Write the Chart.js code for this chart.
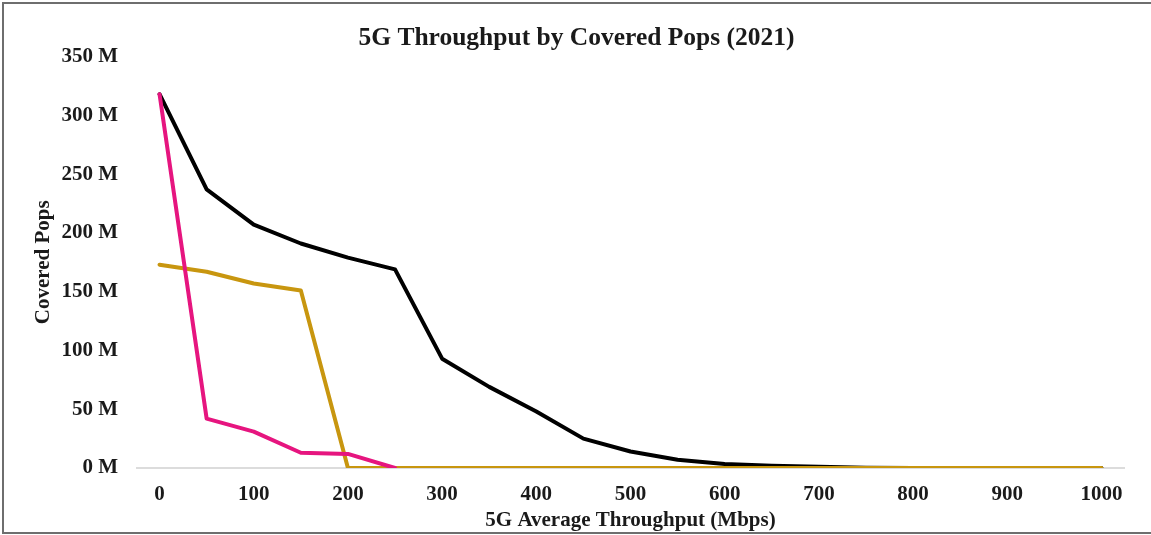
<!DOCTYPE html>
<html lang="en">
<head>
  <meta charset="UTF-8">
  <title>5G Throughput by Covered Pops (2021)</title>
  <script src="https://cdn.jsdelivr.net/npm/chart.js"></script>
  <style>
    body { margin: 0; background: #fff; }
    #wrap { position: relative; width: 1151px; height: 535px; overflow: hidden; }
    #frame {
      position: absolute; left: 2px; top: 2px; width: 1170px; height: 528px;
      border: 2px solid #6e6e6e; box-sizing: content-box; pointer-events: none;
    }
    canvas { position: absolute; left: 0; top: 0; }
  </style>
</head>
<body>
<div id="wrap">
  <canvas id="chart" width="1151" height="535"></canvas>
  <div id="frame"></div>
</div>

<script>
  // throughput buckets (Mbps)
  const throughput = [0, 50, 100, 150, 200, 250, 300, 350, 400, 450, 500,
                      550, 600, 650, 700, 750, 800, 850, 900, 950, 1000];

  // covered pops, millions
  const blackPops = [318, 237, 207, 191, 179, 169, 93, 69, 48, 25, 14,
                     7, 3.5, 2, 1, 0.3, 0, 0, 0, 0, 0];
  const magentaPops = [318, 42, 31, 13, 12, 0];
  const goldPops = [173, 167, 157, 151, 0, 0, 0, 0, 0, 0, 0,
                    0, 0, 0, 0, 0, 0, 0, 0, 0, 0];

  const xTicks = [0, 100, 200, 300, 400, 500, 600, 700, 800, 900, 1000];
  const yTicks = [0, 50, 100, 150, 200, 250, 300, 350];

  const serif = '"Liberation Serif", "Times New Roman", serif';
  const ink = '#1a1a1a';

  function toPoints(values) {
    return values.map((v, i) => ({ x: throughput[i], y: v }));
  }

  new Chart(document.getElementById('chart'), {
    type: 'line',
    data: {
      datasets: [
        { label: 'Magenta', data: toPoints(magentaPops), borderColor: '#e6157f', order: 1 },
        { label: 'Gold', data: toPoints(goldPops), borderColor: '#c8960f', order: 2 },
        { label: 'Black', data: toPoints(blackPops), borderColor: '#000000', order: 3 }
      ]
    },
    options: {
      responsive: false,
      animation: false,
      devicePixelRatio: 1,
      elements: {
        line: { borderWidth: 4, tension: 0, borderJoinStyle: 'round', borderCapStyle: 'round' },
        point: { radius: 0 }
      },
      layout: { padding: { left: 28, right: 26, top: 0, bottom: 0 } },
      plugins: {
        legend: { display: false },
        tooltip: { enabled: false },
        title: {
          display: true,
          text: '5G Throughput by Covered Pops (2021)',
          color: ink,
          font: { family: serif, size: 25.5, weight: 'bold' },
          padding: { top: 23, bottom: 3 }
        }
      },
      scales: {
        x: {
          type: 'linear',
          min: -25,
          max: 1025,
          afterBuildTicks: scale => { scale.ticks = xTicks.map(v => ({ value: v })); },
          afterFit: scale => { scale.height = 67; },
          grid: { display: false, drawTicks: false },
          border: { display: false },
          ticks: {
            color: ink,
            padding: 16,
            maxRotation: 0,
            font: { family: serif, size: 21, weight: 'bold', lineHeight: 1 },
            callback: v => String(v)
          },
          title: {
            display: true,
            text: '5G Average Throughput (Mbps)',
            color: ink,
            font: { family: serif, size: 21, weight: 'bold', lineHeight: 1 },
            padding: { top: 6, bottom: 4 }
          }
        },
        y: {
          min: 0,
          max: 350,
          afterBuildTicks: scale => { scale.ticks = yTicks.map(v => ({ value: v })); },
          afterFit: scale => { scale.width = 108; },
          grid: {
            drawTicks: false,
            lineWidth: 2,
            color: ctx => (ctx.tick && ctx.tick.value === 0) ? '#dcdcdc' : 'rgba(0,0,0,0)'
          },
          border: { display: false },
          ticks: {
            color: ink,
            padding: 18,
            font: { family: serif, size: 21, weight: 'bold' },
            callback: v => v + ' M'
          },
          title: {
            display: true,
            text: 'Covered Pops',
            color: ink,
            font: { family: serif, size: 21, weight: 'bold', lineHeight: 1 },
            padding: { top: 5, bottom: 4 }
          }
        }
      }
    }
  });
</script>
</body>
</html>
